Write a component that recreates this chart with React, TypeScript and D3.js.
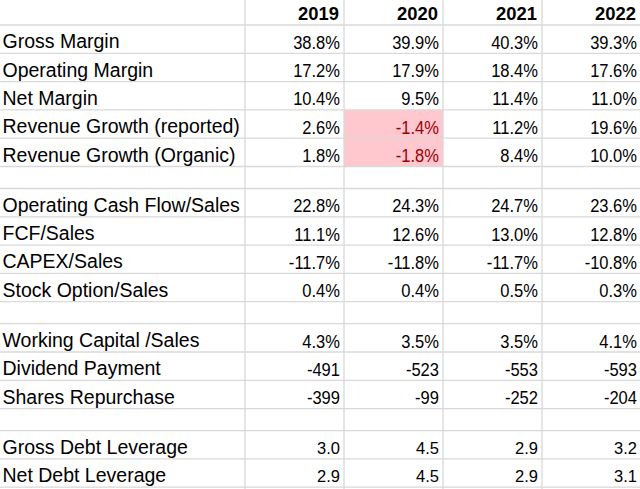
import React from "react";
import * as d3 from "d3";

const years = ["2019", "2020", "2021", "2022"];
const rowLabels = [
  "Gross Margin",
  "Operating Margin",
  "Net Margin",
  "Revenue Growth (reported)",
  "Revenue Growth (Organic)",
  "",
  "Operating Cash Flow/Sales",
  "FCF/Sales",
  "CAPEX/Sales",
  "Stock Option/Sales",
  "",
  "Working Capital /Sales",
  "Dividend Payment",
  "Shares Repurchase",
  "",
  "Gross Debt Leverage",
  "Net Debt Leverage",
];
const values2019 = ["38.8%", "17.2%", "10.4%", "2.6%", "1.8%", "", "22.8%", "11.1%", "-11.7%", "0.4%", "", "4.3%", "-491", "-399", "", "3.0", "2.9"];
const values2020 = ["39.9%", "17.9%", "9.5%", "-1.4%", "-1.8%", "", "24.3%", "12.6%", "-11.8%", "0.4%", "", "3.5%", "-523", "-99", "", "4.5", "4.5"];
const values2021 = ["40.3%", "18.4%", "11.4%", "11.2%", "8.4%", "", "24.7%", "13.0%", "-11.7%", "0.5%", "", "3.5%", "-553", "-252", "", "2.9", "2.9"];
const values2022 = ["39.3%", "17.6%", "11.0%", "19.6%", "10.0%", "", "23.6%", "12.8%", "-10.8%", "0.3%", "", "4.1%", "-593", "-204", "", "3.2", "3.1"];
const smallRows = ["Gross Debt Leverage", "Net Debt Leverage"];
const highlighted = [
  { year: "2020", row: "Revenue Growth (reported)" },
  { year: "2020", row: "Revenue Growth (Organic)" },
];

const W = 640;
const H = 489;
const FONT = "'Liberation Sans', Arial, sans-serif";

export default function App() {
  const series = [values2019, values2020, values2021, values2022];
  const headerBottom = 25;
  const rowH = 28.3;
  const blankH = 22;
  const tops: number[] = [];
  let y = headerBottom;
  rowLabels.forEach((l) => {
    tops.push(y);
    y += l === "" ? blankH : rowH;
  });
  const heights = rowLabels.map((l) => (l === "" ? blankH : rowH));
  const x = d3.scaleBand<string>().domain(years).range([245, 641]);
  const grid = "#d9d9d9";
  const hLines = [headerBottom, ...tops.map((t, i) => t + heights[i])];
  const vLines = [245, ...years.map((yr) => (x(yr) as number) + x.bandwidth())];

  return (
    <svg width={W} height={H} style={{ position: "absolute", left: 0, top: 0, background: "#fff" }}>
      <rect x={0} y={0} width={W} height={H} fill="#fff" />
      {highlighted.map((h) => {
        const i = rowLabels.indexOf(h.row);
        return (
          <rect
            key={h.row}
            x={x(h.year)}
            y={tops[i]}
            width={x.bandwidth()}
            height={heights[i]}
            fill="#ffc7ce"
          />
        );
      })}
      {hLines.map((hy, i) => (
        <line key={"h" + i} x1={0} x2={W} y1={hy} y2={hy} stroke={grid} strokeWidth={1.3} />
      ))}
      {vLines.map((vx, i) => (
        <line key={"v" + i} x1={vx} x2={vx} y1={0} y2={H} stroke={grid} strokeWidth={1.3} />
      ))}
      {years.map((yr) => (
        <text
          key={yr}
          transform={`translate(${(x(yr) as number) + x.bandwidth() - 5},20) scale(0.97,1)`}
          textAnchor="end"
          fontFamily={FONT}
          fontWeight="bold"
          fontSize={19}
          fill="#000"
        >
          {yr}
        </text>
      ))}
      {rowLabels.map((l, i) =>
        l === "" ? null : (
          <text key={"l" + i} x={2.5} y={tops[i] + heights[i] - 5} fontFamily={FONT} fontSize={19.5} fill="#000">
            {l}
          </text>
        )
      )}
      {years.map((yr, c) =>
        series[c].map((v, i) => {
          if (v === "") return null;
          const hl = highlighted.some((h) => h.year === yr && h.row === rowLabels[i]);
          const small = smallRows.includes(rowLabels[i]);
          const tx = (x(yr) as number) + x.bandwidth() - 4;
          const ty = tops[i] + heights[i] - (small ? 5 : 4.5);
          return (
            <text
              key={yr + i}
              transform={`translate(${tx},${ty}) scale(${small ? 1 : 0.87},1)`}
              textAnchor="end"
              fontFamily={FONT}
              fontSize={small ? 16.5 : 19}
              fill={hl ? "#9c0006" : "#000"}
            >
              {v}
            </text>
          );
        })
      )}
    </svg>
  );
}
